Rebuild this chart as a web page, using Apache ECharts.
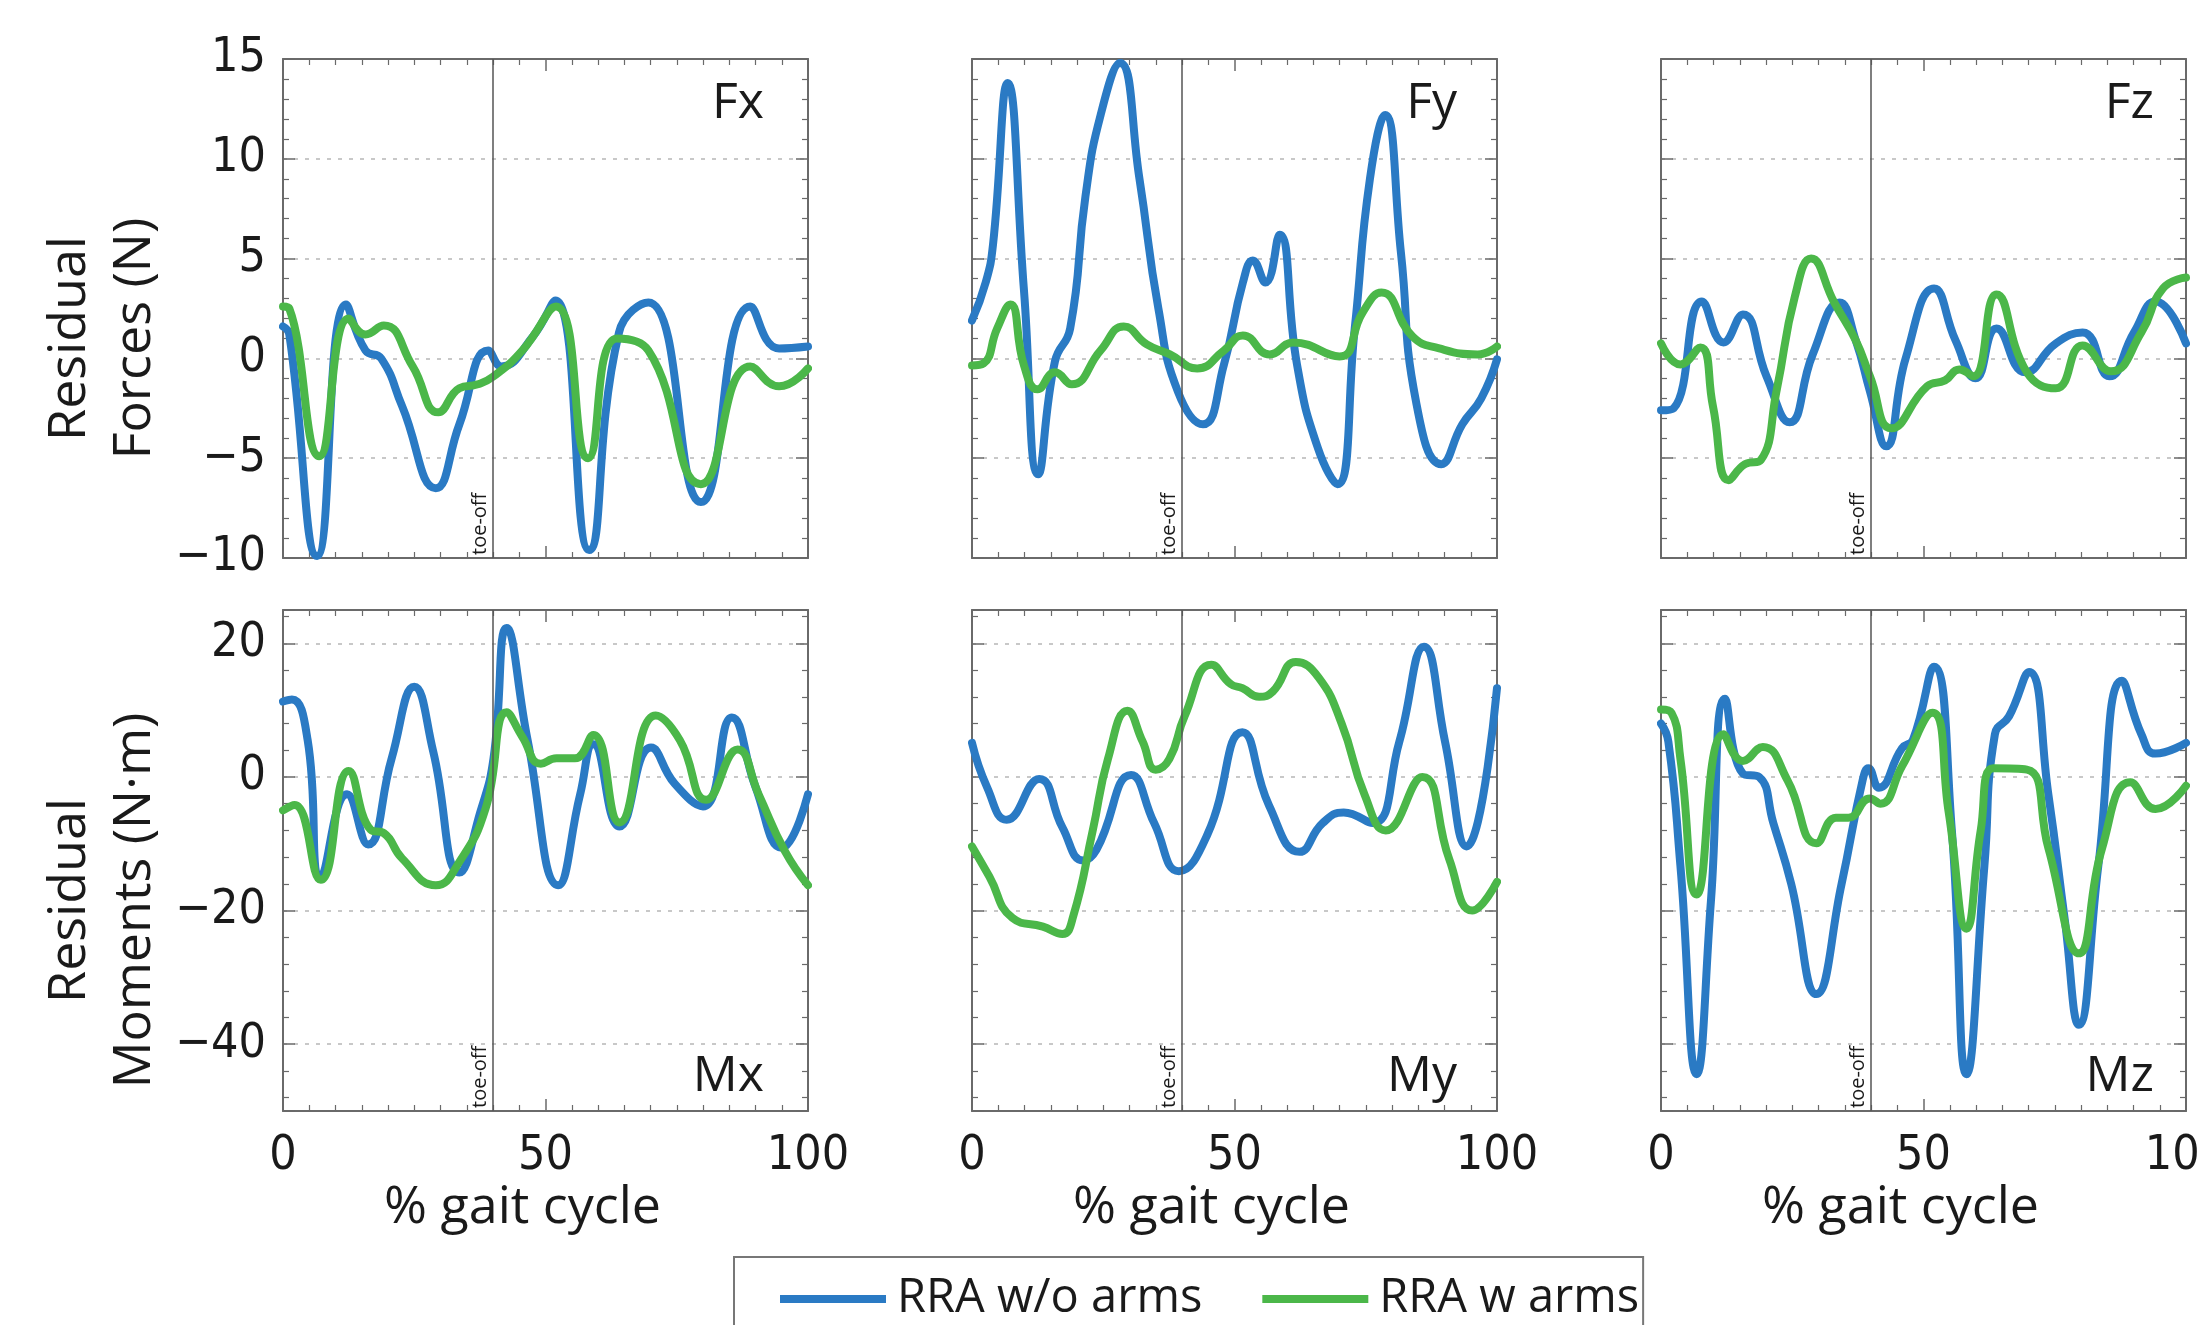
<!DOCTYPE html>
<html>
<head>
<meta charset="utf-8">
<script src="https://cdn.jsdelivr.net/npm/echarts@6/dist/echarts.min.js"></script>
<style>html,body{margin:0;padding:0;background:#fff;}#c{width:2200px;height:1325px;}</style>
</head>
<body>
<div id="c"></div>
<script>
// ---- data ----
const seriesNames = ['RRA w/o arms', 'RRA w arms'];
const panelLabels = ['Fx', 'Fy', 'Fz', 'Mx', 'My', 'Mz'];
const xTicks = [0, 50, 100];
const forceTicks = [-10, -5, 0, 5, 10, 15];
const momentTicks = [-40, -20, 0, 20];
const toeOff = 40;

const fxBlueX = [0, 1.2, 6.5, 12, 15.7, 18.7, 22.7, 29.1, 33.6, 39.1, 41.6, 47.6, 51.9, 58.3, 64, 69.6, 79.6, 89, 94.5, 100];
const fxBlueY = [1.6, 1.2, -9.9, 2.7, 0.4, 0.0, -2.4, -6.5, -3.3, 0.4, -0.4, 1.1, 2.9, -9.6, 1.3, 2.8, -7.2, 2.6, 0.5, 0.6];
const fxGreenX = [0, 1.2, 6.9, 12.5, 15.7, 19.2, 24.7, 29.6, 33.6, 37.1, 40.1, 45.6, 52, 58.1, 63.6, 69.6, 79.6, 89, 94.5, 100];
const fxGreenY = [2.6, 2.5, -4.9, 2.0, 1.2, 1.65, -0.4, -2.7, -1.5, -1.3, -0.9, 0.4, 2.6, -5.0, 1.0, 0.4, -6.3, -0.4, -1.4, -0.5];

const fyBlueX = [0, 2.6, 4, 6.8, 9.9, 12.6, 15.8, 18.7, 21.6, 24.5, 28.2, 31.9, 35.5, 39.2, 44, 48, 51.6, 53.5, 55.9, 58.6, 61.9, 65.9, 69.6, 72.9, 75.8, 78.7, 81.7, 84.6, 89.4, 93.4, 97, 100];
const fyBlueY = [1.9, 3.8, 5.7, 13.8, 3.4, -5.8, -0.15, 1.5, 8.1, 12.2, 14.8, 9.0, 2.5, -1.65, -3.3, -0.3, 3.8, 4.9, 3.8, 6.2, -0.3, -4.5, -6.3, 1.5, 9.0, 12.2, 5.3, -2.2, -5.3, -3.3, -2.0, -0.05];
const fyGreenX = [0, 2.2, 4.8, 7.3, 9.9, 12.5, 15.8, 19, 24.5, 28.9, 33.3, 37.7, 42.9, 48, 51.6, 56.7, 61.2, 70, 74.4, 78, 83.9, 89, 96.3, 100];
const fyGreenY = [-0.35, -0.25, 1.5, 2.7, -0.35, -1.55, -0.7, -1.3, 0.4, 1.6, 0.7, 0.2, -0.5, 0.4, 1.15, 0.2, 0.8, 0.1, 2.3, 3.3, 1.1, 0.5, 0.2, 0.6];

const fzBlueX = [0, 2.4, 7.8, 11.9, 15.6, 20.1, 24.5, 28.9, 34, 37.1, 39.8, 42.9, 46.6, 52, 56.1, 59.9, 63.9, 69.4, 75.2, 80.3, 85.4, 90.1, 94.2, 100];
const fzBlueY = [-2.6, -2.5, 2.85, 0.8, 2.2, -0.9, -3.2, 0.2, 2.8, 0.9, -1.65, -4.4, 0, 3.5, 0.9, -1.0, 1.5, -0.7, 0.75, 1.3, -0.9, 1.3, 2.85, 0.75];
const fzGreenX = [0, 3.7, 7.5, 9.9, 12.9, 16, 19, 22.1, 25.5, 28.6, 33, 37.1, 39.8, 43.9, 50.7, 54.1, 56.8, 59.5, 63.9, 69.7, 75.2, 80.3, 85.7, 91.5, 95.6, 100];
const fzGreenY = [0.75, -0.3, 0.55, -2.4, -6.1, -5.3, -5.1, -1.5, 3.1, 5.0, 2.8, 0.9, -0.9, -3.5, -1.4, -1.1, -0.55, -0.9, 3.2, -0.7, -1.5, 0.65, -0.65, 1.3, 3.5, 4.05];

const mxBlueX = [0, 1.7, 4.7, 7.2, 12.2, 16.2, 20.7, 25, 28.6, 33.6, 37.6, 40.1, 42.6, 46.6, 52.4, 56.6, 59.1, 64.1, 70.1, 74.6, 80, 85.5, 90, 95, 100];
const mxBlueY = [11.3, 11.6, 5.5, -14.9, -2.6, -10.1, 2.8, 13.5, 3.85, -14.3, -5.2, 2.8, 22.3, 5.5, -16.2, -2.6, 4.9, -7.4, 4.4, -1.0, -4.4, 8.9, -1.5, -10.6, -2.6];
const mxGreenX = [0, 2.2, 7.2, 12.5, 16.7, 19.2, 22.7, 29.1, 33.6, 38.6, 42.6, 45.6, 49.1, 52.1, 55.6, 59.1, 64.1, 71, 75.6, 80.6, 86.6, 90.6, 95.6, 100];
const mxGreenY = [-5.0, -4.2, -15.4, 0.9, -7.9, -8.4, -12.2, -16.2, -12.7, -4.7, 9.7, 6.0, 2.0, 2.8, 2.8, 6.3, -6.8, 9.2, 5.5, -3.4, 4.1, -2.6, -11.1, -16.2];

const myBlueX = [0, 2.9, 6.6, 12.8, 17.2, 21.2, 23.7, 30.3, 34.7, 39.4, 44.9, 51.5, 56.6, 62.4, 66.8, 70.8, 76.3, 81.4, 86.1, 90.1, 94.2, 100];
const myBlueY = [5.1, -1.6, -6.4, -0.3, -7.5, -12.5, -10.9, 0.3, -6.9, -14.1, -8.5, 6.7, -4.3, -11.2, -6.9, -5.3, -6.9, 5.3, 19.5, 5.3, -10.4, 13.3];
const myGreenX = [0, 3.3, 7.7, 13.5, 17.2, 19.3, 23, 25.9, 29.6, 32.5, 35, 37.6, 40.5, 45.6, 49.3, 51.5, 54.7, 57.3, 61.7, 66, 70.4, 74.8, 78.8, 85.8, 90.9, 95.3, 100];
const myGreenY = [-10.4, -14.9, -21.1, -22.4, -23.5, -20.8, -8, 2.7, 9.9, 5.3, 1.1, 2.7, 9.1, 16.8, 13.9, 13.3, 12.0, 12.8, 17.2, 14.9, 8.0, -2.7, -8.0, 0, -12.3, -20.0, -15.7];

const mzBlueX = [0, 1.4, 3.7, 6.8, 9.5, 12.2, 15.6, 18.7, 21.4, 24.8, 29.6, 34.4, 38.4, 39.5, 41.5, 45.9, 48, 52, 55.4, 58.2, 61.6, 63.6, 66.3, 70.1, 73.8, 76.9, 79.6, 83.3, 87.8, 91.5, 94.2, 100];
const mzBlueY = [8.0, 5.3, -13.3, -44.5, -18.7, 11.7, 0.5, 0, -6.9, -16, -32.5, -16, -0.5, 1.3, -1.6, 4.3, 5.6, 16.5, -8, -44.5, -13.3, 6.4, 9.1, 15.7, -2.7, -21.3, -37.1, -13.3, 14.4, 6.4, 3.5, 5.1];
const mzGreenX = [0, 2, 3.7, 6.8, 11.9, 15.6, 19.4, 24.1, 29.6, 33.3, 35.7, 39.8, 41.8, 45.9, 51.7, 54.8, 58.2, 60.9, 63.3, 69.7, 73.8, 79.6, 84, 89.4, 94.2, 100];
const mzGreenY = [10.1, 9.6, 2.7, -17.6, 6.4, 2.4, 4.5, -0.5, -9.9, -6.1, -6.1, -3.2, -4, 1.6, 9.6, -5.3, -22.7, -8, 1.3, 1.1, -10.7, -26.4, -10.7, -0.8, -4.8, -1.3];

// ---- layout & styles ----
const BLUE = '#2a7ac4', GREEN = '#4bb749';
const AX = '#6a6a6a', TXT = '#1a1a1a';
const SANS = "'Open Sans', 'Noto Sans', sans-serif";
const NARROW = "'Liberation Sans Narrow', 'DejaVu Sans Condensed', 'Liberation Sans', sans-serif";
const colLeft = [283, 972, 1661];
const labelRightGap = [44, 40, 32];
const rowTop = [59, 610];
const rowH = [499, 501];
const gridW = 525;

const panels = [
  [fxBlueX, fxBlueY, fxGreenX, fxGreenY],
  [fyBlueX, fyBlueY, fyGreenX, fyGreenY],
  [fzBlueX, fzBlueY, fzGreenX, fzGreenY],
  [mxBlueX, mxBlueY, mxGreenX, mxGreenY],
  [myBlueX, myBlueY, myGreenX, myGreenY],
  [mzBlueX, mzBlueY, mzGreenX, mzGreenY]
];

const zip = (xs, ys) => xs.map((x, i) => [x, ys[i]]);
const minus = v => String(v).replace('-', '\u2212');

const grid = [], xAxis = [], yAxis = [], series = [], graphic = [];
for (let i = 0; i < 6; i++) {
  const r = Math.floor(i / 3), c = i % 3;
  grid.push({ left: colLeft[c], top: rowTop[r], width: gridW, height: rowH[r],
    containLabel: false, outerBoundsMode: 'none' });
  const isForce = r === 0;
  const yRange = isForce
    ? { min: forceTicks[0], max: forceTicks[forceTicks.length - 1], interval: 5 }
    : { min: -50, max: 25, splitNumber: 4 };
  const common = {
    axisLine: { show: true, onZero: false, lineStyle: { color: AX, width: 2 } },
    axisTick: { show: true, inside: true, length: 12, lineStyle: { color: AX, width: 1.5 } },
    minorTick: { show: true, splitNumber: 5, length: 6, lineStyle: { color: AX, width: 1.2 } }
  };
  // bottom x axis
  xAxis.push(Object.assign({}, common, {
    gridIndex: i, type: 'value', position: 'bottom', min: xTicks[0], max: xTicks[2], interval: 50,
    minorTick: Object.assign({}, common.minorTick, { splitNumber: 10 }),
    splitLine: { show: false },
    axisLabel: { show: r === 1, margin: 22, fontSize: 48, fontFamily: NARROW, color: TXT },
    name: r === 1 ? '% gait cycle' : '', nameLocation: 'middle', nameGap: 70,
    nameTextStyle: { fontSize: 52, fontFamily: SANS, color: TXT, padding: [0, 46, 0, 0] }
  }));
  // top mirror
  xAxis.push(Object.assign({}, common, {
    gridIndex: i, type: 'value', position: 'top', min: xTicks[0], max: xTicks[2], interval: 50,
    minorTick: Object.assign({}, common.minorTick, { splitNumber: 10 }),
    splitLine: { show: false }, axisLabel: { show: false }
  }));
  // left y axis
  yAxis.push(Object.assign({}, common, yRange, {
    gridIndex: i, type: 'value', position: 'left',
    splitLine: { show: true, lineStyle: { color: '#c8c8c8', width: 2, type: [4, 7] } },
    axisLabel: {
      show: c === 0, margin: 17, fontSize: 48, fontFamily: NARROW, color: TXT,
      showMinLabel: isForce, showMaxLabel: isForce, formatter: minus
    },
    name: c === 0 ? (isForce ? 'Residual\nForces (N)' : 'Residual\nMoments (N\u00b7m)') : '',
    nameLocation: 'middle', nameGap: 115,
    nameTextStyle: { fontSize: 52, lineHeight: 65, fontFamily: SANS, color: TXT,
      padding: isForce ? [0, 60, 0, 0] : [0, 80, 0, 0] }
  }));
  // right mirror
  yAxis.push(Object.assign({}, common, yRange, {
    gridIndex: i, type: 'value', position: 'right',
    splitLine: { show: false }, axisLabel: { show: false }
  }));

  const p = panels[i];
  series.push({
    name: seriesNames[0], type: 'line', xAxisIndex: 2 * i, yAxisIndex: 2 * i,
    data: zip(p[0], p[1]), smooth: 0.5, showSymbol: false, z: 3,
    lineStyle: { color: BLUE, width: 8, join: 'round', cap: 'round' }, itemStyle: { color: BLUE },
    markLine: {
      silent: true, symbol: 'none', animation: false,
      data: [{ xAxis: toeOff }],
      lineStyle: { color: '#555', width: 1.5, type: 'solid' },
      label: { show: true, formatter: 'toe-off', position: 'insideStartTop', distance: 3,
        fontSize: 20, fontFamily: SANS, color: TXT }
    }
  });
  series.push({
    name: seriesNames[1], type: 'line', xAxisIndex: 2 * i, yAxisIndex: 2 * i,
    data: zip(p[2], p[3]), smooth: 0.5, showSymbol: false, z: 4,
    lineStyle: { color: GREEN, width: 8, join: 'round', cap: 'round' }, itemStyle: { color: GREEN }
  });

  // panel label
  const right = colLeft[c] + gridW - labelRightGap[c];
  graphic.push({
    type: 'text', x: right, y: r === 0 ? 104 : 1077, z: 10,
    style: { text: panelLabels[i], fill: TXT, font: '50px ' + SANS, textAlign: 'right', textVerticalAlign: 'middle' }
  });
}

const chart = echarts.init(document.getElementById('c'), null, { renderer: 'canvas' });
chart.setOption({
  backgroundColor: '#ffffff',
  animation: false,
  grid, xAxis, yAxis, series, graphic,
  legend: {
    data: seriesNames, left: 734, top: 1257, orient: 'horizontal',
    icon: 'rect', itemWidth: 106, itemHeight: 8, itemGap: 60,
    borderColor: '#777', borderWidth: 2, padding: [12, 4, 60, 46],
    textStyle: { fontSize: 47, fontFamily: SANS, color: TXT, lineHeight: 60, padding: [0, 0, 0, 6] }
  }
});
</script>
</body>
</html>
